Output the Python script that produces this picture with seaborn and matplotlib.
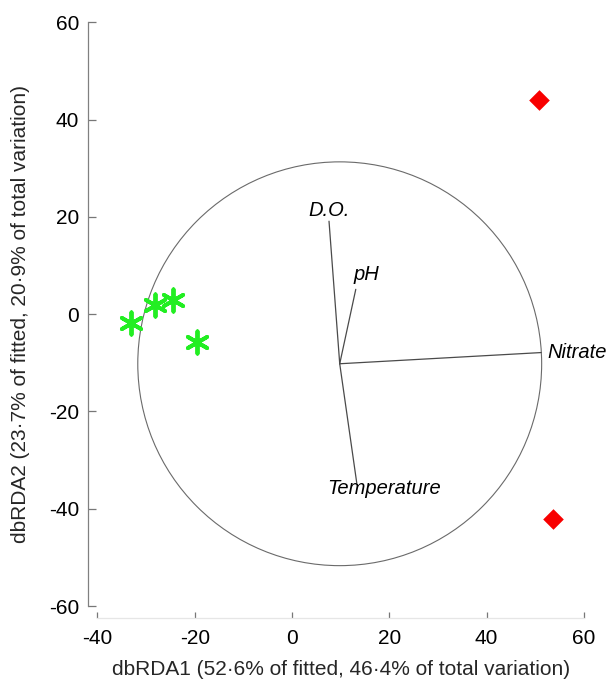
import matplotlib
matplotlib.use("Agg")
import matplotlib.pyplot as plt
import pandas as pd
import seaborn as sns
from matplotlib.patches import Circle

# Site scores (dbRDA1, dbRDA2)
lstGreenX = [-33.0, -28.1, -24.4, -19.6]
lstGreenY = [-1.8, 1.8, 2.9, -5.8]
lstRedX = [50.8, 53.6]
lstRedY = [44.0, -42.2]

# Environmental vectors: common origin, end points
fOriginX, fOriginY = 9.8, -10.2
fCircleRadius = 41.5
lstVarNames = ["D.O.", "pH", "Nitrate", "Temperature"]
lstVarEndX = [7.6, 13.1, 51.2, 13.3]
lstVarEndY = [19.1, 5.1, -7.9, -34.7]

# Axis ticks and titles
lstTicksX = [-40, -20, 0, 20, 40, 60]
lstTicksY = [-60, -40, -20, 0, 20, 40, 60]
sLabelX = "dbRDA1 (52·6% of fitted, 46·4% of total variation)"
sLabelY = "dbRDA2 (23·7% of fitted, 20·9% of total variation)"

# label placement (pixels offset from vector tip, ha, va)
dctLabelStyle = {
	"D.O.": ((0, 1), "center", "bottom"),
	"pH": ((-2, 5), "left", "bottom"),
	"Nitrate": ((6, 0), "left", "center"),
	"Temperature": ((27, -6), "center", "center"),
}

sns.set_style("white")
plt.rcParams["font.family"] = ["Liberation Sans", "DejaVu Sans"]
plt.rcParams["axes.unicode_minus"] = False

fig = plt.figure(figsize=(6.11, 6.82), dpi=100)
ax = fig.add_axes([0.1594, 0.1114, 0.7964, 0.856])

# correlation circle
ax.add_patch(Circle((fOriginX, fOriginY), fCircleRadius, fill=False,
	edgecolor="#6a6a6a", linewidth=0.8, zorder=1))

# vectors and their labels
for sName, fX, fY in zip(lstVarNames, lstVarEndX, lstVarEndY):
	ax.plot([fOriginX, fX], [fOriginY, fY], color="#4a4a4a", linewidth=0.9, zorder=2)
	tOffset, sHa, sVa = dctLabelStyle[sName]
	ax.annotate(sName, xy=(fX, fY), xytext=tOffset, textcoords="offset pixels",
		ha=sHa, va=sVa, fontsize=14.5, fontstyle="italic", color="black")

# site points
dfGreen = pd.DataFrame({"x": lstGreenX, "y": lstGreenY})
dfRed = pd.DataFrame({"x": lstRedX, "y": lstRedY})
sns.scatterplot(data=dfGreen, x="x", y="y", ax=ax, marker=(6, 2, 0),
	color="#22ee22", s=16 ** 2, linewidth=2.8, zorder=3)
sns.scatterplot(data=dfRed, x="x", y="y", ax=ax, marker="D",
	color="#f80000", edgecolor="#f80000", s=10.5 ** 2, linewidth=0, zorder=3)

ax.set_xlim(lstTicksX[0], lstTicksX[-1])
ax.set_ylim(lstTicksY[0], lstTicksY[-1])
ax.set_xticks(lstTicksX)
ax.set_yticks(lstTicksY)
ax.set_xlabel(sLabelX, fontsize=15, labelpad=9)
ax.set_ylabel(sLabelY, fontsize=15, labelpad=14)

ax.tick_params(axis="both", labelsize=15, direction="in", colors="#777777",
	labelcolor="black", left=True, bottom=True)
ax.tick_params(axis="y", length=6, width=0.9, pad=6)
ax.tick_params(axis="x", length=4, width=0.9, pad=8)

sns.despine(ax=ax, offset={"left": 7, "bottom": 8.5}, trim=True)
ax.spines["left"].set_color("#808080")
ax.spines["left"].set_linewidth(0.9)
ax.spines["bottom"].set_color("#e6e6e6")
ax.spines["bottom"].set_linewidth(0.9)

fig.savefig("out.png", dpi=100)
